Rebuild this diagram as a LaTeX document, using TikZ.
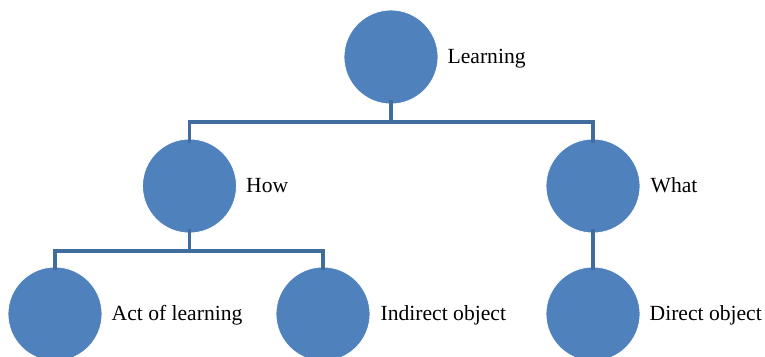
\documentclass[tikz,border=0pt]{standalone}
\usepackage{fontspec}
\setmainfont{Liberation Serif}
\usepackage{xcolor}
\definecolor{bubbleblue}{RGB}{79,129,189}
\definecolor{linkblue}{RGB}{65,109,158}
\tikzset{
  bubble/.style={circle, minimum size=70.5pt, inner sep=0pt, fill=bubbleblue, draw=white, line width=0.6pt},
  lbl/.style={anchor=base west, inner sep=0pt, font=\fontsize{16.2}{19}\selectfont},
  link/.style={draw=linkblue, line width=2.3pt}
}

\begin{document}
\begin{tikzpicture}[x=0.75pt,y=0.75pt,yscale=-1,xscale=1]
\path[use as bounding box] (0,0) rectangle (765,357);

%Shape: Circle
\node[bubble] (learning) at (391,57) {};
\node[bubble] (how) at (189.5,186) {};
\node[bubble] (what) at (593,186) {};
\node[bubble] (act) at (55,314) {};
\node[bubble] (indirect) at (323,314) {};
\node[bubble] (direct) at (593,314) {};

% Bar coordinates
\coordinate (topbar) at (391,122);
\coordinate (lowbar) at (189.5,251);

%Straight Lines
\draw[link] ([yshift=-3pt]learning.south) -- (topbar);
\draw[link] ([yshift=3pt]how.north) |- (topbar) -| ([yshift=3pt]what.north);
%Straight Lines
\draw[link] ([yshift=-3pt]how.south) -- (lowbar);
\draw[link] ([yshift=2.5pt]act.north) |- (lowbar) -| ([yshift=2.5pt]indirect.north);
%Straight Lines
\draw[link] ([yshift=-3pt]what.south) -- ([yshift=2.5pt]direct.north);

% Text Node
\node[lbl] (learninglbl) at ([shift={(9,6.7)}]learning.east) {Learning};
% Text Node
\node[lbl] (howlbl) at ([shift={(9,6.7)}]how.east) {How};
% Text Node
\node[lbl] (whatlbl) at ([shift={(10,6.7)}]what.east) {What};
% Text Node
\node[lbl] (actlbl) at ([shift={(9,6.7)}]act.east) {Act of learning};
% Text Node
\node[lbl] (indirectlbl) at ([shift={(10,6.7)}]indirect.east) {Indirect object};
% Text Node
\node[lbl] (directlbl) at ([shift={(9,6.7)}]direct.east) {Direct object};

\end{tikzpicture}
\end{document}
